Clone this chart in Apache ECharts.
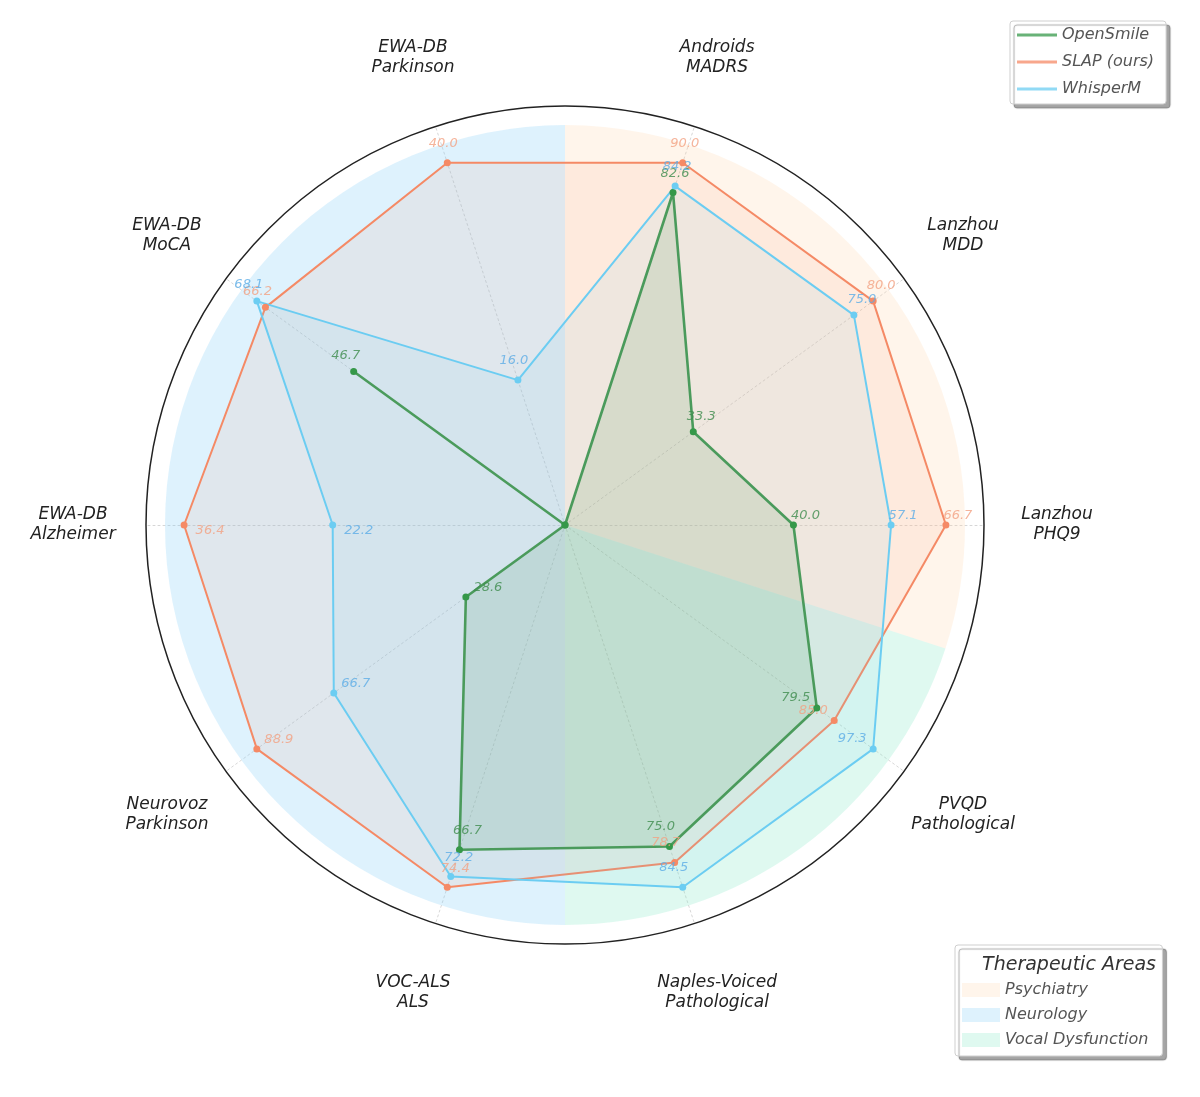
<!DOCTYPE html>
<html>
<head>
<meta charset="utf-8">
<script src="https://cdn.jsdelivr.net/npm/echarts@6/dist/echarts.min.js"></script>
<style>
  html, body { margin: 0; padding: 0; background: #fff; }
  #chart { width: 1200px; height: 1097px; }
</style>
</head>
<body>
<div id="chart"></div>
<script>
// datasets, in radar order (counter-clockwise starting at 3 o'clock)
var datasets = ['Lanzhou\nPHQ9', 'Lanzhou\nMDD', 'Androids\nMADRS', 'EWA-DB\nParkinson', 'EWA-DB\nMoCA',
                'EWA-DB\nAlzheimer', 'Neurovoz\nParkinson', 'VOC-ALS\nALS', 'Naples-Voiced\nPathological', 'PVQD\nPathological'];
var openSmile = [40.0, 33.3, 82.6, 0, 46.7, 0, 28.6, 66.7, 75.0, 79.5];
var slap      = [66.7, 80.0, 90.0, 40.0, 66.2, 36.4, 88.9, 74.4, 78.7, 85.0];
var whisperM  = [57.1, 75.0, 84.2, 16.0, 68.1, 22.2, 66.7, 72.2, 84.5, 97.3];

// therapeutic areas, clockwise from 12 o'clock, size = number of datasets
var areaNames  = ['Psychiatry', 'Vocal Dysfunction', 'Neurology'];
var areaCounts = [3, 2, 5];

var FONT = 'DejaVu Sans';
var C = [565, 525];
var R = 419;
var headroom = 1.1;   // best score on each axis sits at 1/1.1 of the radius
var n = datasets.length;

// every axis is scaled to the best of the three models
var axisMax = datasets.map(function (d, i) {
  return Math.max(openSmile[i], slap[i], whisperM[i]);
});

// where the value text sits next to its point, per axis (px)
var labelShift = [[12, -9], [8, -15], [2, -19], [-4, -19], [-8, -16],
                  [26, 6], [22, -9], [8, -19], [-9, -20], [-21, -10]];

var models = [
  { name: 'OpenSmile',   values: openSmile, color: '#359849', text: '#3f8c4e', width: 2.6, fill: 0.14 },
  { name: 'SLAP (ours)', values: slap,      color: '#f58a66', text: '#f3a182', width: 2,   fill: 0.10 },
  { name: 'WhisperM',    values: whisperM,  color: '#6ccdf2', text: '#5cade6', width: 2,   fill: 0.10 }
];

var areaColors = {
  'Psychiatry': 'rgba(255, 214, 170, 0.24)',
  'Neurology': 'rgba(135, 208, 248, 0.28)',
  'Vocal Dysfunction': 'rgba(140, 235, 200, 0.28)'
};

var series = [];

series.push({
  type: 'pie',
  center: C,
  radius: [0, 400],
  startAngle: 90,
  clockwise: true,
  silent: true,
  z: 0,
  label: { show: false },
  labelLine: { show: false },
  emphasis: { disabled: true },
  data: areaNames.map(function (nm, i) {
    return { name: nm, value: areaCounts[i], itemStyle: { color: areaColors[nm] } };
  })
});

models.forEach(function (m) {
  series.push({
    type: 'radar',
    z: 3,
    symbol: 'circle',
    symbolSize: 7,
    silent: true,
    data: [{
      name: m.name,
      value: m.values,
      lineStyle: { color: m.color, width: m.width },
      itemStyle: { color: m.color },
      areaStyle: { color: m.color, opacity: m.fill }
    }]
  });
});

// value texts, placed through a polar system that overlays the radar
models.forEach(function (m) {
  var pts = [];
  m.values.forEach(function (v, i) {
    if (v <= 0) return;
    pts.push({
      value: [v / axisMax[i], i * 360 / n],
      label: { offset: labelShift[i], formatter: v.toFixed(1) }
    });
  });
  series.push({
    type: 'scatter',
    name: m.name + ' values',
    coordinateSystem: 'polar',
    symbolSize: 0,
    silent: true,
    z: 5,
    label: {
      show: true,
      position: 'inside',
      color: m.text,
      fontSize: 13,
      fontStyle: 'italic',
      fontFamily: FONT
    },
    data: pts
  });
});

var legendBox = {
  orient: 'vertical',
  icon: 'rect',
  backgroundColor: '#fff',
  borderColor: '#cfcfcf',
  borderWidth: 1,
  borderRadius: 3,
  shadowColor: 'rgba(0,0,0,0.35)',
  shadowOffsetX: 4,
  shadowOffsetY: 4,
  shadowBlur: 1,
  textStyle: { fontFamily: FONT, fontSize: 16, fontStyle: 'italic', color: '#555' }
};

var chart = echarts.init(document.getElementById('chart'));
chart.setOption({
  backgroundColor: '#fff',
  animation: false,
  title: {
    text: 'Therapeutic Areas',
    left: 1064,
    top: 951,
    textAlign: 'center',
    z: 10,
    textStyle: { fontFamily: FONT, fontSize: 19, fontStyle: 'italic', fontWeight: 'normal', color: '#333' }
  },
  legend: [Object.assign({}, legendBox, {
    data: models.map(function (m) { return m.name; }),
    left: 1010,
    top: 21,
    padding: [6, 12, 7, 7],
    itemGap: 11,
    itemWidth: 40,
    itemHeight: 3,
    itemStyle: { opacity: 0.75 }
  }), Object.assign({}, legendBox, {
    data: ['Psychiatry', 'Neurology', 'Vocal Dysfunction'],
    left: 955,
    top: 945,
    padding: [37, 14, 8, 7],
    itemGap: 9,
    itemWidth: 38,
    itemHeight: 14
  })],
  radar: {
    center: C,
    radius: R,
    startAngle: 0,
    shape: 'circle',
    splitNumber: 1,
    nameGap: 73,
    indicator: datasets.map(function (d, i) {
      return { name: d, min: 0, max: axisMax[i] * headroom };
    }),
    axisName: {
      color: '#222',
      fontFamily: FONT,
      fontSize: 17,
      fontStyle: 'italic',
      lineHeight: 20,
      align: 'center',
      verticalAlign: 'middle'
    },
    splitLine: { lineStyle: { color: '#222', width: 1.5 } },
    splitArea: { show: false },
    axisLine: { lineStyle: { color: 'rgba(0,0,0,0.16)', width: 1, type: [2, 3] } },
    axisTick: { show: false },
    axisLabel: { show: false }
  },
  polar: { center: C, radius: R },
  angleAxis: { type: 'value', min: 0, max: 360, startAngle: 0, clockwise: false, show: false },
  radiusAxis: { type: 'value', min: 0, max: headroom, show: false },
  series: series
});
</script>
</body>
</html>
